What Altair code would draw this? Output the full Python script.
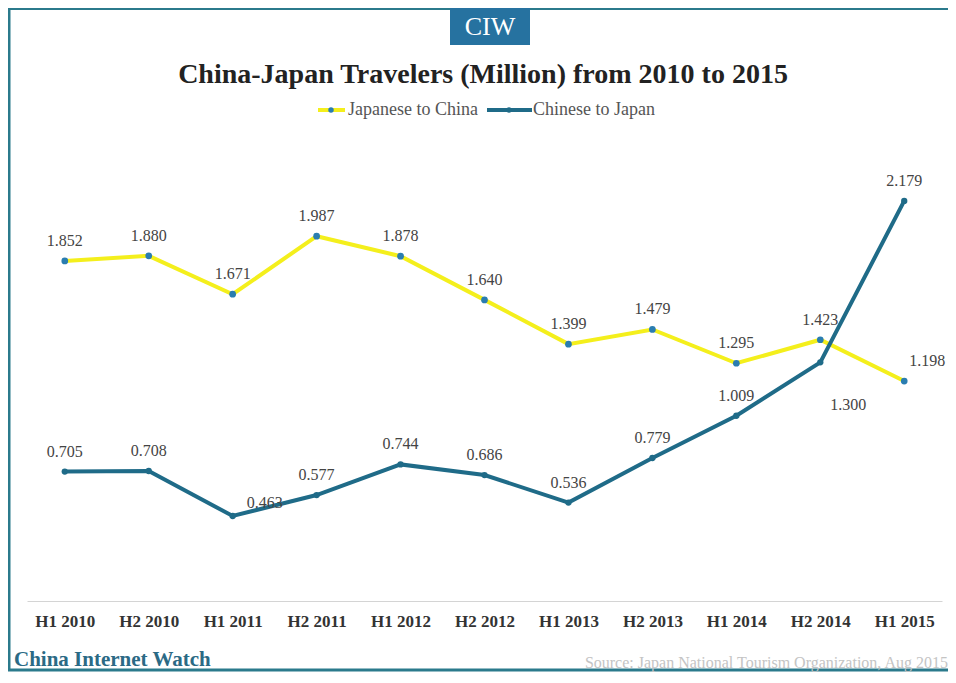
import altair as alt
import pandas as pd

periods = ["H1 2010", "H2 2010", "H1 2011", "H2 2011", "H1 2012", "H2 2012",
           "H1 2013", "H2 2013", "H1 2014", "H2 2014", "H1 2015"]
series_names = ["Japanese to China", "Chinese to Japan"]
japanese_to_china = [1.852, 1.880, 1.671, 1.987, 1.878, 1.640, 1.399, 1.479, 1.295, 1.423, 1.198]
chinese_to_japan = [0.705, 0.708, 0.463, 0.577, 0.744, 0.686, 0.536, 0.779, 1.009, 1.300, 2.179]

YELLOW = "#f4ef1c"
TEAL = "#1f6b88"
DOT_J = "#2a7db0"
SERIF = "Liberation Serif"

rows = []
for p, v in zip(periods, japanese_to_china):
    rows.append({"period": p, "series": series_names[0], "value": v})
for p, v in zip(periods, chinese_to_japan):
    rows.append({"period": p, "series": series_names[1], "value": v})
df = pd.DataFrame(rows)

W, H = 915, 459

x_enc = alt.X("period:N", sort=periods,
              scale=alt.Scale(type="point", padding=0.45),
              axis=alt.Axis(title=None, labelAngle=0, domainColor="#d4d4d4", domainWidth=1,
                            ticks=False, grid=False, labelFont=SERIF, labelFontWeight="bold",
                            labelFontSize=17, labelColor="#333333", labelPadding=12))
y_enc = alt.Y("value:Q", scale=alt.Scale(domain=[0, 2.5]), axis=None)

base = alt.Chart(df).encode(x=x_enc, y=y_enc)

j_filter = alt.datum.series == series_names[0]
c_filter = alt.datum.series == series_names[1]

line_j = base.transform_filter(j_filter).mark_line(color=YELLOW, strokeWidth=4)
pts_j = base.transform_filter(j_filter).mark_point(filled=True, color=DOT_J, size=45, opacity=1)
line_c = base.transform_filter(c_filter).mark_line(color=TEAL, strokeWidth=4)
pts_c = base.transform_filter(c_filter).mark_point(filled=True, color=TEAL, size=40, opacity=1)

special_right = (alt.datum.series == series_names[1]) & (alt.datum.period == "H1 2011")
special_below = (alt.datum.series == series_names[1]) & (alt.datum.period == "H2 2014")
special_j_end = (alt.datum.series == series_names[0]) & (alt.datum.period == "H1 2015")

txt_kw = dict(font=SERIF, fontSize=16, color="#444444")
labels_main = base.transform_filter(
    ~(special_right | special_below | special_j_end)
).mark_text(dy=-20, **txt_kw).encode(text=alt.Text("value:Q", format=".3f"))
labels_right = base.transform_filter(special_right).mark_text(dx=32, dy=-13, **txt_kw).encode(
    text=alt.Text("value:Q", format=".3f"))
labels_below = base.transform_filter(special_below).mark_text(dx=28, dy=43, **txt_kw).encode(
    text=alt.Text("value:Q", format=".3f"))
labels_jend = base.transform_filter(special_j_end).mark_text(dx=23, dy=-20, **txt_kw).encode(
    text=alt.Text("value:Q", format=".3f"))

one = pd.DataFrame({"k": [0]})
deco = alt.Chart(one)

# frame
frame_left = deco.mark_rule(color="#2b7a8c", strokeWidth=3).encode(
    x=alt.value(-18), y=alt.value(-134), y2=alt.value(528))
frame_top = deco.mark_rule(color="#2b7a8c", strokeWidth=2).encode(
    x=alt.value(-19), x2=alt.value(925), y=alt.value(-133))
frame_bottom = deco.mark_rule(color="#2b7a8c", strokeWidth=3).encode(
    x=alt.value(-19), x2=alt.value(925), y=alt.value(528))

# CIW badge
badge = deco.mark_rect(color="#2672a0").encode(
    x=alt.value(423), x2=alt.value(503), y=alt.value(-134), y2=alt.value(-97))
badge_txt = deco.mark_text(text="CIW", font=SERIF, fontSize=26, color="white",
                           baseline="middle").encode(x=alt.value(463), y=alt.value(-115))

title = deco.mark_text(text="China-Japan Travelers  (Million) from 2010 to 2015", font=SERIF,
                       fontSize=28, fontWeight="bold", color="#222222",
                       baseline="middle").encode(x=alt.value(456), y=alt.value(-67))

# legend
leg_j_line = deco.mark_rule(color=YELLOW, strokeWidth=4).encode(
    x=alt.value(291), x2=alt.value(318), y=alt.value(-32))
leg_j_dot = deco.mark_point(filled=True, color=DOT_J, size=30, opacity=1).encode(
    x=alt.value(304), y=alt.value(-32))
leg_j_txt = deco.mark_text(text=series_names[0], font=SERIF, fontSize=18, color="#555555",
                           align="left", baseline="middle").encode(x=alt.value(321), y=alt.value(-32))
leg_c_line = deco.mark_rule(color=TEAL, strokeWidth=4).encode(
    x=alt.value(460), x2=alt.value(505), y=alt.value(-32))
leg_c_dot = deco.mark_point(filled=True, color=TEAL, size=30, opacity=1).encode(
    x=alt.value(482), y=alt.value(-32))
leg_c_txt = deco.mark_text(text=series_names[1], font=SERIF, fontSize=18, color="#555555",
                           align="left", baseline="middle").encode(x=alt.value(506), y=alt.value(-32))

# footer
foot_l = deco.mark_text(text="China Internet Watch", font=SERIF, fontSize=21, fontWeight="bold",
                        color="#2b6a85", align="left", baseline="middle").encode(
    x=alt.value(-13), y=alt.value(518))
foot_r = deco.mark_text(text="Source: Japan National Tourism Organization,  Aug 2015", font=SERIF,
                        fontSize=16, color="#c4c4c4", align="right", baseline="middle").encode(
    x=alt.value(921), y=alt.value(521))

chart = alt.layer(
    line_j, pts_j, line_c, pts_c,
    labels_main, labels_right, labels_below, labels_jend,
    frame_left, frame_top, frame_bottom, badge, badge_txt, title,
    leg_j_line, leg_j_dot, leg_j_txt, leg_c_line, leg_c_dot, leg_c_txt,
    foot_l, foot_r,
).properties(
    width=W, height=H,
    autosize=alt.AutoSizeParams(type="none"),
    padding={"left": 19, "top": 134, "right": 6, "bottom": 71},
    background="white",
).configure_view(stroke=None)

chart.save("out.html", embed_options={"renderer": "svg", "actions": False})
